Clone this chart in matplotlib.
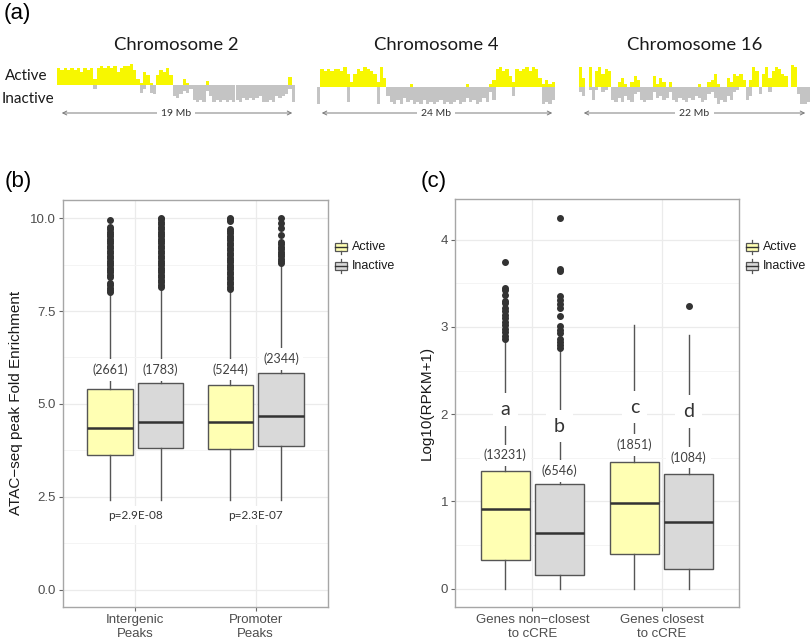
import matplotlib.pyplot as plt
import numpy as np
from matplotlib.patches import Rectangle

plt.rcParams['font.family'] = ['Liberation Sans', 'DejaVu Sans']

# ---- panel (a): track heights, in tenths of full scale ----
chr2_active = [8, 7, 8, 7, 8, 7, 8, 6, 8, 7, 8, 3, 8, 9, 8, 9, 8, 9, 6, 8, 9, 9, 10, 7,
               3, 1, 6, 5, 1, 0, 5, 7, 6, 8, 5, 0, 0, 0, 3, 1, 0, 0, 0, 0, 0, 2, 0, 0,
               0, 0, 0, 0, 0, 0, 0, 0, 0, 0, 0, 0, 0, 0, 0, 0, 0, 0, 0, 0, 0, 0, 4, 0]
chr2_inactive = [0, 0, 0, 0, 0, 0, 0, 0, 0, 0, 0, 2, 0, 0, 0, 0, 0, 0, 0, 0, 0, 0, 0, 0,
                 0, 4, 2, 0, 4, 5, 0, 0, 0, 0, 0, 6, 7, 5, 3, 4, 2, 8, 9, 8, 9, 3, 6, 9,
                 8, 9, 8, 9, 8, 9, 8, 9, 7, 8, 7, 8, 7, 6, 9, 9, 8, 9, 6, 7, 6, 5, 2, 9]
chr4_active = [0, 8, 7, 8, 7, 8, 8, 7, 9, 6, 2, 6, 8, 7, 9, 8, 7, 6, 2, 9, 4, 0, 0, 0,
               0, 0, 0, 0, 1, 0, 0, 0, 0, 0, 0, 0, 0, 0, 0, 0, 0, 0, 0, 0, 0, 1, 0, 0,
               0, 0, 0, 0, 1, 3, 8, 9, 7, 8, 5, 2, 8, 7, 8, 9, 7, 9, 8, 4, 1, 3, 1, 2]
chr4_inactive = [9, 0, 0, 0, 0, 0, 0, 0, 0, 8, 0, 0, 0, 0, 0, 0, 0, 0, 9, 0, 0, 5, 8, 9,
                 7, 9, 6, 8, 7, 9, 8, 9, 7, 9, 8, 9, 8, 7, 9, 8, 9, 8, 7, 9, 8, 6, 8, 7,
                 9, 8, 6, 8, 3, 7, 0, 0, 0, 0, 0, 5, 0, 0, 0, 0, 0, 0, 0, 0, 9, 8, 9, 7]
chr16_active = [9, 4, 0, 9, 0, 7, 9, 6, 8, 7, 0, 0, 2, 4, 1, 0, 2, 5, 3, 0, 0, 0, 0, 5,
                1, 4, 2, 0, 2, 0, 0, 0, 0, 0, 0, 0, 0, 1, 0, 0, 2, 3, 6, 1, 0, 0, 4, 2,
                6, 5, 6, 3, 0, 3, 9, 7, 0, 6, 9, 4, 7, 9, 8, 6, 5, 0, 10, 9, 0, 0, 0, 0]
chr16_inactive = [3, 5, 0, 2, 7, 2, 0, 3, 2, 0, 7, 8, 6, 8, 5, 7, 8, 4, 3, 7, 8, 7, 7, 3,
                  6, 5, 7, 6, 3, 7, 8, 6, 7, 8, 6, 7, 5, 6, 8, 7, 4, 3, 6, 9, 7, 8, 5, 7,
                  3, 2, 0, 0, 7, 5, 0, 0, 4, 0, 0, 3, 0, 0, 0, 0, 0, 0, 0, 0, 4, 9, 9, 8]
chrom_names = ['Chromosome 2', 'Chromosome 4', 'Chromosome 16']
chrom_sizes = ['19 Mb', '24 Mb', '22 Mb']

# ---- panel (b): ATAC-seq fold enrichment ----
b_groups = ['Intergenic\nPeaks', 'Promoter\nPeaks']
b_q1 = [3.62, 3.82, 3.78, 3.86]
b_med = [4.36, 4.50, 4.50, 4.67]
b_q3 = [5.39, 5.57, 5.50, 5.84]
b_lo = [2.40, 2.40, 2.40, 2.40]
b_hi = [7.98, 8.10, 8.05, 8.75]
b_fliers = [
    [8.00, 8.06, 8.12, 8.19, 8.25, 8.41, 8.47, 8.54, 8.60, 8.67, 8.73, 8.80, 8.86, 8.93,
     8.99, 9.06, 9.12, 9.19, 9.25, 9.32, 9.38, 9.45, 9.51, 9.58, 9.64, 9.71, 9.76, 9.95],
    [8.15, 8.21, 8.28, 8.34, 8.41, 8.47, 8.54, 8.60, 8.67, 8.73, 8.80, 8.86, 8.93, 8.99,
     9.06, 9.12, 9.19, 9.25, 9.32, 9.38, 9.45, 9.51, 9.58, 9.64, 9.71, 9.77, 9.84, 9.90, 9.97, 10.0],
    [8.10, 8.16, 8.23, 8.29, 8.36, 8.42, 8.49, 8.55, 8.62, 8.68, 8.75, 8.81, 8.88, 8.94,
     9.01, 9.07, 9.14, 9.20, 9.27, 9.33, 9.40, 9.46, 9.53, 9.59, 9.66, 9.72, 9.92, 9.97, 10.0],
    [8.79, 8.85, 8.91, 8.97, 9.04, 9.10, 9.17, 9.23, 9.30, 9.37, 9.55, 9.73, 9.87, 10.0],
]
b_counts = ['(2661)', '(1783)', '(5244)', '(2344)']
b_count_y = [5.91, 5.91, 5.93, 6.21]
b_pvals = ['p=2.9E-08', 'p=2.3E-07']
b_pval_y = [2.0, 2.0]

# ---- panel (c): expression ----
c_groups = ['Genes non\u2212closest\nto cCRE', 'Genes closest\nto cCRE']
c_q1 = [0.333, 0.153, 0.394, 0.23]
c_med = [0.914, 0.638, 0.983, 0.765]
c_q3 = [1.347, 1.194, 1.447, 1.316]
c_lo = [0.0, 0.0, 0.0, 0.0]
c_hi = [2.84, 2.73, 3.02, 2.91]
c_fliers = [
    [2.86, 2.90, 2.94, 2.98, 3.02, 3.06, 3.10, 3.14, 3.18, 3.22, 3.27, 3.30, 3.37, 3.42, 3.45, 3.75],
    [2.76, 2.79, 2.83, 2.86, 2.93, 2.97, 3.01, 3.12, 3.22, 3.26, 3.31, 3.35, 3.64, 3.67, 4.25],
    [],
    [3.24],
]
c_letters = ['a', 'b', 'c', 'd']
c_letter_y = [2.055, 1.863, 2.08, 2.03]
c_counts = ['(13231)', '(6546)', '(1851)', '(1084)']
c_count_y = [1.53, 1.347, 1.645, 1.504]

YELLOW = '#ffffb3'
GREY = '#d9d9d9'
ANN = 'Lato'

fig = plt.figure(figsize=(8.1, 6.4), dpi=100)
ov = fig.add_axes([0, 0, 1, 1])
ov.set_xlim(0, 810)
ov.set_ylim(640, 0)
ov.axis('off')


def px_axes(left, top, right, bottom):
    return fig.add_axes([left / 810, 1 - bottom / 640, (right - left) / 810, (bottom - top) / 640])


# ---- panel (a) ----
ov.text(4, 13, '(a)', fontsize=16, va='center', ha='left')
tracks = [(chr2_active, chr2_inactive), (chr4_active, chr4_inactive), (chr16_active, chr16_inactive)]
spans = [(57, 295, 64, 106), (317, 555, 65, 108), (579, 810, 65, 108)]
for (act, ina), (l, r, t, b), name, size in zip(tracks, spans, chrom_names, chrom_sizes):
    ax = px_axes(l, t, r, b)
    x = np.arange(len(act))
    ax.bar(x, np.array(act) / 10, width=1.0, align='edge', color='#f7f700', linewidth=0)
    ax.bar(x, -np.array(ina) / 10 * 0.9, width=1.0, align='edge', color='#c4c4c4', linewidth=0)
    ax.set_xlim(0, len(act))
    ax.set_ylim(-1, 1)
    ax.axis('off')
    cx = (l + r) / 2
    ov.text(cx, 45, name, fontsize=13.3, family=ANN, ha='center', va='center', color='#1a1a1a')
    ov.annotate('', xy=(l + 2, 113), xytext=(min(r, 808), 113),
                arrowprops=dict(arrowstyle='<->', color='#7a7a7a', lw=0.7, mutation_scale=7))
    ov.text(cx, 113, size, fontsize=7.5, family=ANN, ha='center', va='center', color='#333',
            bbox=dict(boxstyle='square,pad=0.4', fc='white', ec='none'))
ov.text(5, 76, 'Active', fontsize=11, family=ANN, ha='left', va='center', color='#1a1a1a')
ov.text(2, 99, 'Inactive', fontsize=11, family=ANN, ha='left', va='center', color='#1a1a1a')


def box_panel(ax, q1, med, q3, lo, hi, fliers, groups, ylim, major, minor, fmt):
    pos = [0.79, 1.21, 1.79, 2.21]
    stats = [dict(q1=a, med=m, q3=c, whislo=w0, whishi=w1, fliers=f)
             for a, m, c, w0, w1, f in zip(q1, med, q3, lo, hi, fliers)]
    bp = ax.bxp(stats, positions=pos, widths=0.375, patch_artist=True, showcaps=False,
                boxprops=dict(edgecolor='#555555', linewidth=1),
                whiskerprops=dict(color='#555555', linewidth=1),
                medianprops=dict(color='#333333', linewidth=1.8),
                flierprops=dict(marker='o', markerfacecolor='#333333', markeredgecolor='#333333',
                                markersize=4))
    for i, patch in enumerate(bp['boxes']):
        patch.set_facecolor(YELLOW if i % 2 == 0 else GREY)
    ax.set_xlim(0.4, 2.6)
    ax.set_ylim(*ylim)
    ax.set_xticks([1, 2])
    ax.set_xticklabels(groups)
    ax.set_yticks(major)
    ax.set_yticklabels([fmt.format(v) for v in major])
    ax.set_yticks(minor, minor=True)
    ax.tick_params(which='major', length=3, color='#666666', labelcolor='#4d4d4d',
                   labelsize=9.5, pad=2)
    ax.tick_params(which='minor', length=0)
    ax.grid(which='major', color='#ebebeb', linewidth=0.9)
    ax.grid(which='minor', axis='y', color='#f4f4f4', linewidth=0.7)
    ax.set_axisbelow(True)
    for sp in ax.spines.values():
        sp.set_color('#a6a6a6')
        sp.set_linewidth(1)
    return pos


def legend_at(x, y):
    for i, (lab, col) in enumerate([('Active', YELLOW), ('Inactive', GREY)]):
        yc = y + i * 19
        ov.add_patch(Rectangle((x, yc - 4), 12, 8, facecolor=col, edgecolor='#555555', lw=0.9))
        ov.plot([x, x + 12], [yc, yc], color='#333333', lw=1)
        ov.plot([x + 6, x + 6], [yc - 7, yc - 4], color='#555555', lw=0.9)
        ov.plot([x + 6, x + 6], [yc + 4, yc + 7], color='#555555', lw=0.9)
        ov.text(x + 17, yc, lab, fontsize=9, ha='left', va='center', color='#1a1a1a')


white = dict(boxstyle='square,pad=0.35', fc='white', ec='none')

# ---- panel (b) ----
ov.text(5, 182, '(b)', fontsize=16, va='center', ha='left')
axb = px_axes(63, 200, 328, 607)
pos = box_panel(axb, b_q1, b_med, b_q3, b_lo, b_hi, b_fliers, b_groups, (-0.47, 10.49),
                [0, 2.5, 5, 7.5, 10], [1.25, 3.75, 6.25, 8.75], '{:.1f}')
for p, t, y in zip(pos, b_counts, b_count_y):
    axb.text(p, y, t, fontsize=9, family=ANN, ha='center', va='center', color='#404040',
             bbox=white, zorder=5)
for g, t, y in zip([1, 2], b_pvals, b_pval_y):
    axb.text(g, y, t, fontsize=8.5, family=ANN, ha='center', va='center', color='#333333',
             bbox=white, zorder=5)
ov.text(16, 403, 'ATAC\u2212seq peak Fold Enrichment', fontsize=11, rotation=90,
        ha='center', va='center', color='#1a1a1a')
legend_at(335, 247)

# ---- panel (c) ----
ov.text(421, 182, '(c)', fontsize=16, va='center', ha='left')
axc = px_axes(455, 199, 739, 607)
pos = box_panel(axc, c_q1, c_med, c_q3, c_lo, c_hi, c_fliers, c_groups, (-0.211, 4.467),
                [0, 1, 2, 3, 4], [0.5, 1.5, 2.5, 3.5], '{:.0f}')
for p, t, y in zip(pos, c_letters, c_letter_y):
    axc.text(p, y, t, fontsize=14, family=ANN, ha='center', va='center', color='#333333',
             bbox=dict(boxstyle='square,pad=0.4', fc='white', ec='none'), zorder=5)
for p, t, y in zip(pos, c_counts, c_count_y):
    axc.text(p, y, t, fontsize=9, family=ANN, ha='center', va='center', color='#404040',
             bbox=white, zorder=5)
ov.text(427, 403, 'Log10(RPKM+1)', fontsize=11, rotation=90, ha='center', va='center',
        color='#1a1a1a')
legend_at(746, 247)

fig.savefig('out.png', dpi=100)
